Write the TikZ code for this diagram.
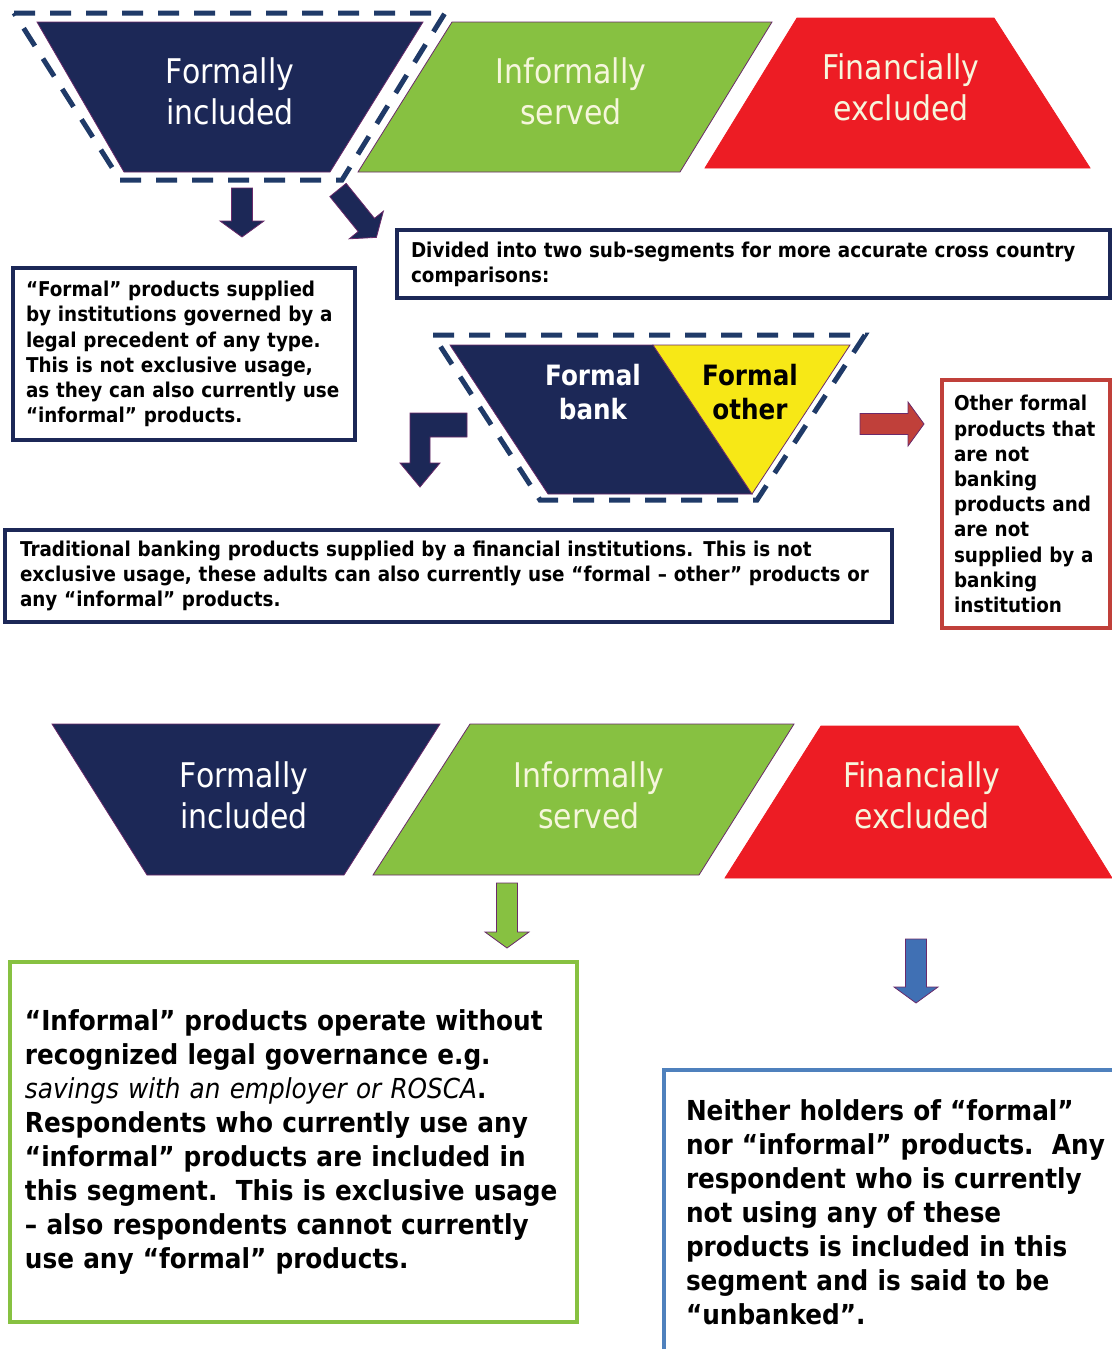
\documentclass[tikz,border=0pt]{standalone}
\usepackage{fontspec}
\newfontfamily\tahoma[FakeStretch=0.88]{DejaVu Sans}
\newfontfamily\tahomatext[FakeStretch=0.9]{DejaVu Sans}

\definecolor{segnavy}{HTML}{1C2857}
\definecolor{dashnavy}{HTML}{1F3A68}
\definecolor{seggreen}{HTML}{87C141}
\definecolor{segred}{HTML}{ED1C24}
\definecolor{segyellow}{HTML}{F7E816}
\definecolor{brick}{HTML}{C0403A}
\definecolor{arrowblue}{HTML}{4070B4}
\definecolor{boxblue}{HTML}{4F81BD}
\definecolor{edgepurple}{HTML}{6A2A6A}
\definecolor{cream}{HTML}{F6F6DC}

\tikzset{
  segment/.style={draw=edgepurple, line width=0.4pt},
  seglabel/.style={align=center, inner sep=0pt, font=\tahoma\fontsize{17}{20.5}\selectfont},
  sublabel/.style={align=center, inner sep=0pt, font=\tahoma\bfseries\fontsize{14}{17}\selectfont},
  dashframe/.style={draw=dashnavy, line width=2.5pt, dash pattern=on 10.5pt off 7.5pt},
  infobox/.style={draw=segnavy, line width=2.2pt, align=left, inner ysep=0pt,
    font=\tahomatext\bfseries\fontsize{10.2}{12.6}\selectfont},
  bigbox/.style={line width=2pt, align=left, inner ysep=0pt,
    font=\tahomatext\bfseries\fontsize{13.75}{17}\selectfont},
}

% block arrow from (#2), pointing at angle #3, length #4
\def\blockarrow[#1](#2)(#3:#4){%
  \begin{scope}[shift={(#2)},rotate=#3]
    \filldraw[#1] (0,-10.5) -- ({#4-16},-10.5) -- ({#4-16},-22) -- (#4,0)
      -- ({#4-16},22) -- ({#4-16},10.5) -- (0,10.5) -- cycle;
  \end{scope}}

\begin{document}
\begin{tikzpicture}[x=0.5pt,y=-0.5pt]
  \useasboundingbox (0,0) rectangle (1112,1349);
  %%%%% START %%%%%

  % segments, first row
  \filldraw[segment, fill=segnavy] (37,22) -- (423,22) -- (330,172) -- (124,172) -- cycle;
  \filldraw[segment, fill=seggreen] (452,22) -- (772,22) -- (680,172) -- (358,172) -- cycle;
  \filldraw[segment, draw=segred, fill=segred] (797,18) -- (994,18) -- (1090,168) -- (705,168) -- cycle;
  \draw[dashframe] (14,13) -- (445,13) -- (342,180) -- (120,180) -- cycle;

  \node[seglabel, text=white] (formal1) at (230,91) {Formally\\included};
  \node[seglabel, text=cream] (informal1) at (571,91) {Informally\\served};
  \node[seglabel, text=cream] (excluded1) at (901,87) {Financially\\excluded};

  \blockarrow[segment, fill=segnavy](242,188)(-90:49)
  \blockarrow[segment, fill=segnavy](338,190)(-51:61)

  \node[infobox, text width=158pt, inner xsep=6.5pt, minimum height=86pt] (formaltext) at (184,354)
    {“Formal” products supplied\\
     by institutions governed by a\\
     legal precedent of any type.\\
     This is not exclusive usage,\\
     as they can also currently use\\
     “informal” products.};

  \node[infobox, text width=342.5pt, inner xsep=7pt, minimum height=34pt] (dividedtext) at (753.5,264)
    {Divided into two sub-segments for more accurate cross country\\
     comparisons:};

  % formal bank / formal other split
  \filldraw[segment, fill=segnavy] (450,345) -- (653,345) -- (752,494) -- (548,494) -- cycle;
  \filldraw[segment, fill=segyellow] (653,345) -- (850,345) -- (752,494) -- cycle;
  \draw[dashframe] (433,335) -- (865,335) -- (757,500) -- (540,500) -- cycle;

  \node[sublabel, text=white] (bank) at (593,392) {Formal\\bank};
  \node[sublabel, text=black] (other) at (750,392) {Formal\\other};

  \filldraw[segment, fill=segnavy] (467,413) -- (410,413) -- (410,463) -- (400,463) -- (420,487)
    -- (440,463) -- (430,463) -- (430,437) -- (467,437) -- cycle;
  \blockarrow[segment, fill=brick](860,424)(0:64)

  \node[infobox, draw=brick, text width=72pt, inner xsep=6pt, minimum height=124pt] (othertext) at (1026,504)
    {Other formal\\
     products that\\
     are not\\
     banking\\
     products and\\
     are not\\
     supplied by a\\
     banking\\
     institution};

  \node[infobox, text width=428.5pt, inner xsep=7.5pt, minimum height=46pt] (banktext) at (448.5,576)
    {Traditional banking products supplied by a financial institutions. This is not\\
     exclusive usage, these adults can also currently use “formal – other” products or\\
     any “informal” products.};

  % segments, second row
  \filldraw[segment, fill=segnavy] (52,724) -- (440,724) -- (344,875) -- (147,875) -- cycle;
  \filldraw[segment, fill=seggreen] (470,724) -- (794,724) -- (699,875) -- (373,875) -- cycle;
  \filldraw[segment, draw=segred, fill=segred] (821,726) -- (1018,726) -- (1112,878) -- (725,878) -- cycle;

  \node[seglabel, text=white] (formal2) at (244,795) {Formally\\included};
  \node[seglabel, text=cream] (informal2) at (589,795) {Informally\\served};
  \node[seglabel, text=cream] (excluded2) at (922,795) {Financially\\excluded};

  \blockarrow[segment, fill=seggreen](507,883)(-90:65)
  \blockarrow[segment, fill=arrowblue](916,939)(-90:64)

  \node[bigbox, draw=seggreen, text width=268.5pt, inner xsep=7.5pt, minimum height=180pt] (informaltext) at (293.5,1142)
    {“Informal” products operate without\\
     recognized legal governance e.g.\\
     \textit{\mdseries savings with an employer or ROSCA}.\\
     Respondents who currently use any\\
     “informal” products are included in\\
     this segment.\ \ This is exclusive usage\\
     – also respondents cannot currently\\
     use any “formal” products.};

  \node[bigbox, draw=boxblue, text width=220pt, inner xsep=11pt, minimum height=142pt] (unbankedtext) at (906,1212)
    {Neither holders of “formal”\\
     nor “informal” products.\ \ Any\\
     respondent who is currently\\
     not using any of these\\
     products is included in this\\
     segment and is said to be\\
     “unbanked”.};

  %%%%% END %%%%%
\end{tikzpicture}
\end{document}
